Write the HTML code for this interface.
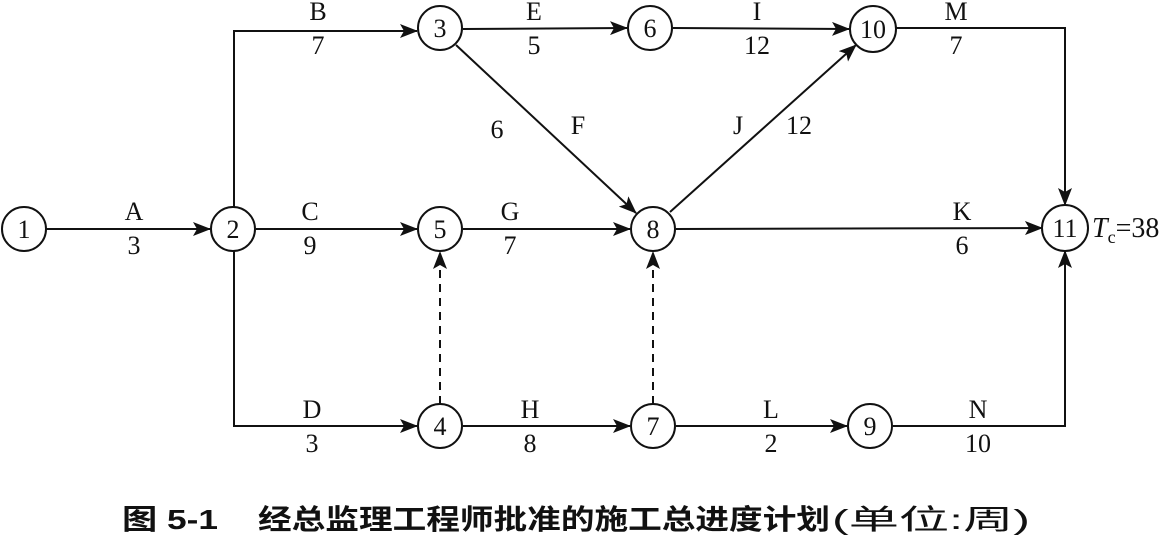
<!DOCTYPE html>
<html><head><meta charset="utf-8"><style>
body{margin:0;background:#fff;width:1174px;height:538px;overflow:hidden}
svg text{font-family:"Liberation Serif",serif;font-size:26px;fill:#111}
.c{font-family:"Liberation Sans","Noto Sans CJK SC",sans-serif;font-size:28px;font-weight:bold}
</style></head><body>
<svg width="1174" height="538" viewBox="0 0 1174 538">
<defs><marker id="a" markerWidth="18" markerHeight="14" refX="17" refY="7" orient="auto" markerUnits="userSpaceOnUse"><path d="M0,0 L18,7 L0,14 L4,7 Z" fill="#111"/></marker></defs>
<g stroke="#111" stroke-width="2" fill="none">
<line x1="46" y1="229" x2="210" y2="229" marker-end="url(#a)"/>
<polyline points="234,207 234,31 417,31" marker-end="url(#a)"/>
<line x1="256" y1="229" x2="417" y2="229" marker-end="url(#a)"/>
<polyline points="234,251 234,426 417,426" marker-end="url(#a)"/>
<line x1="463" y1="29" x2="627" y2="28" marker-end="url(#a)"/>
<line x1="673" y1="28" x2="849" y2="29" marker-end="url(#a)"/>
<line x1="456" y1="45" x2="636" y2="213" marker-end="url(#a)"/>
<line x1="670" y1="212" x2="856" y2="45" marker-end="url(#a)"/>
<line x1="463" y1="229" x2="630" y2="229" marker-end="url(#a)"/>
<line x1="676" y1="229" x2="1042" y2="228" marker-end="url(#a)"/>
<polyline points="896,28 1065,28 1065,205" marker-end="url(#a)"/>
<line x1="463" y1="426" x2="630" y2="426" marker-end="url(#a)"/>
<line x1="676" y1="426" x2="847" y2="426" marker-end="url(#a)"/>
<polyline points="893,426 1065,426 1065,251" marker-end="url(#a)"/>
<line x1="440" y1="404" x2="440" y2="252" stroke-dasharray="8,6" marker-end="url(#a)"/>
<line x1="653" y1="404" x2="653" y2="252" stroke-dasharray="8,6" marker-end="url(#a)"/>
<circle cx="24" cy="229" r="22"/><circle cx="233" cy="229" r="22"/>
<circle cx="440" cy="28" r="22"/><circle cx="650" cy="28" r="22"/><circle cx="873" cy="29" r="23"/>
<circle cx="440" cy="229" r="22"/><circle cx="653" cy="229" r="22"/><circle cx="1065" cy="228" r="23"/>
<circle cx="440" cy="426" r="22"/><circle cx="653" cy="426" r="22"/><circle cx="870" cy="426" r="22"/>
</g>
<g text-anchor="middle">
<text x="24" y="238">1</text><text x="233" y="238">2</text><text x="440" y="37">3</text><text x="650" y="37">6</text><text x="873" y="38">10</text>
<text x="440" y="238">5</text><text x="653" y="238">8</text><text x="1065" y="237">11</text>
<text x="440" y="435">4</text><text x="653" y="435">7</text><text x="870" y="435">9</text>
<text x="134" y="220">A</text><text x="134" y="254">3</text>
<text x="318" y="20">B</text><text x="318" y="54">7</text>
<text x="310" y="220">C</text><text x="310" y="254">9</text>
<text x="312" y="418">D</text><text x="312" y="452">3</text>
<text x="534" y="20">E</text><text x="534" y="54">5</text>
<text x="757" y="20">I</text><text x="757" y="54">12</text>
<text x="956" y="20">M</text><text x="956" y="54">7</text>
<text x="497" y="138">6</text><text x="578" y="134">F</text>
<text x="738" y="134">J</text><text x="799" y="134">12</text>
<text x="510" y="220">G</text><text x="510" y="254">7</text>
<text x="962" y="220">K</text><text x="962" y="254">6</text>
<text x="530" y="418">H</text><text x="530" y="452">8</text>
<text x="771" y="418">L</text><text x="771" y="452">2</text>
<text x="978" y="418">N</text><text x="978" y="452">10</text>
</g>
<text x="1092" y="237"><tspan font-style="italic" font-size="28">T</tspan><tspan font-size="18" dy="6">c</tspan><tspan dy="-6" font-size="28">=38</tspan></text>
<text class="c" x="122" y="529" textLength="96" lengthAdjust="spacingAndGlyphs">图 5-1</text>
<text class="c" x="258" y="529" textLength="572" lengthAdjust="spacingAndGlyphs">经总监理工程师批准的施工总进度计划</text>
<text class="c" x="832" y="529" textLength="198" lengthAdjust="spacingAndGlyphs" style="font-weight:normal">(单位:周)</text>
</svg>
</body></html>
